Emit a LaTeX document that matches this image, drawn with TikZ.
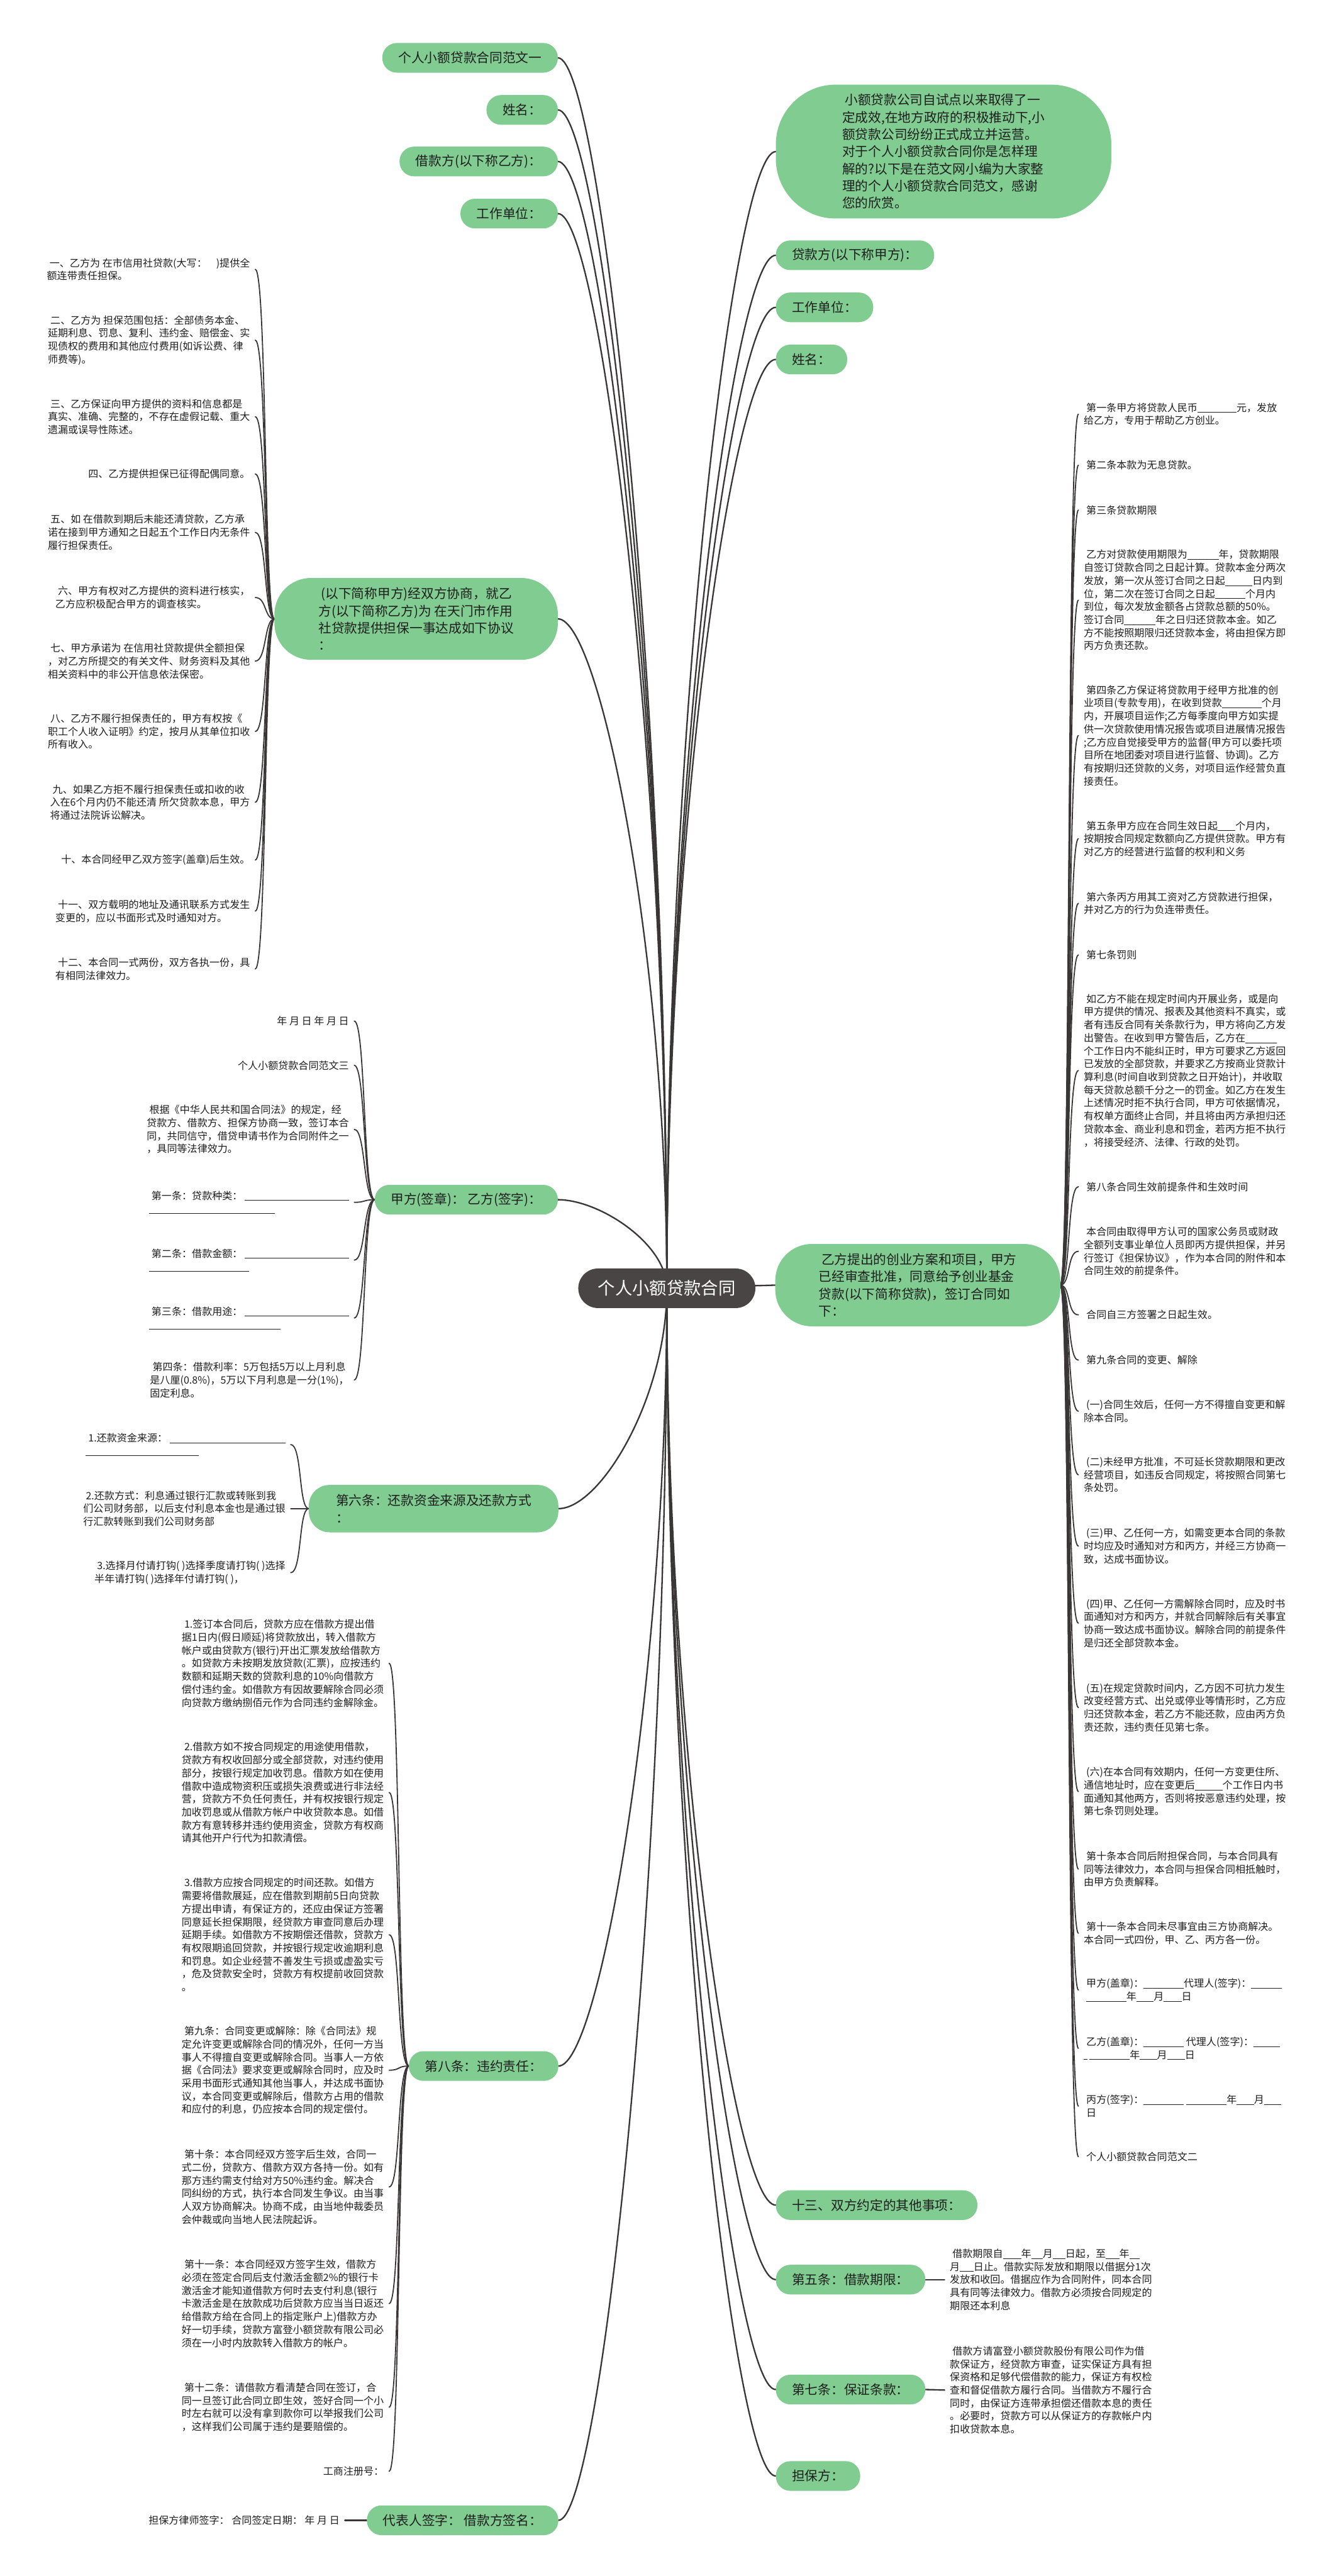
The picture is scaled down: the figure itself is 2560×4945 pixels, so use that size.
\documentclass[tikz,border=0pt]{standalone}
\usepackage{fontspec}
\setmainfont{Noto Sans CJK SC}
\usetikzlibrary{backgrounds}
\definecolor{gfill}{HTML}{80CC91}
\definecolor{dfill}{HTML}{4A4545}
\definecolor{edgec}{HTML}{3A3636}
\definecolor{txt}{HTML}{1E1E1E}
\newcommand{\myind}{\hspace*{5pt}}
\newcommand{\blnk}[1]{\rule[-2.5pt]{#1pt}{1pt}}
\tikzset{
  pill/.style={fill=gfill, rounded corners=28pt, minimum height=57pt, inner xsep=31pt, inner ysep=0pt, font=\fontsize{25}{33}\selectfont, text=txt},
  bub/.style={fill=gfill, align=left, inner sep=0pt, font=\fontsize{25}{33}\selectfont, text=txt},
  ctrnode/.style={fill=dfill, rounded corners=38pt, minimum width=340pt, minimum height=76pt, inner sep=0pt, text=white, font=\fontsize{33}{40}\selectfont},
  small/.style={align=left, inner xsep=10pt, inner ysep=0pt, font=\fontsize{19.4}{25}\selectfont, text=txt},
  edge/.style={draw=edgec, line width=2.8pt, line cap=round},
  bedge/.style={draw=edgec, line width=2.2pt, line cap=round},
}
\begin{document}
\begin{tikzpicture}[x=1pt,y=-1pt]
\useasboundingbox (0,0) rectangle (2560,4945);

% centre
\node[ctrnode] (ctr) at (1280,2473) {个人小额贷款合同};

% top-left
\node[pill, anchor=east] (n1) at (1071,111) {个人小额贷款合同范文一};
\node[pill, anchor=east] (n2) at (1071,211) {姓名：};
\node[pill, anchor=east] (n3) at (1071,310) {借款方(以下称乙方)：};
\node[pill, anchor=east] (n4) at (1071,410) {工作单位：};

% top-right
\node[bub, anchor=west, minimum width=644pt, minimum height=257pt, rounded corners=115pt] (b1) at (1489,291)
 {\myind 小额贷款公司自试点以来取得了一\\定成效,在地方政府的积极推动下,小\\额贷款公司纷纷正式成立并运营。\\对于个人小额贷款合同你是怎样理\\解的?以下是在范文网小编为大家整\\理的个人小额贷款合同范文，感谢\\您的欣赏。};
\node[pill, anchor=west] (r1) at (1489,490) {贷款方(以下称甲方)：};
\node[pill, anchor=west] (r2) at (1489,590) {工作单位：};
\node[pill, anchor=west] (r3) at (1489,690) {姓名：};

% left main nodes
\node[bub, anchor=east, minimum width=544pt, minimum height=157pt, rounded corners=70pt] (L1) at (1071,1188)
 {\myind (以下简称甲方)经双方协商，就乙\\方(以下简称乙方)为 在天门市作用\\社贷款提供担保一事达成如下协议\\：};
\node[pill, anchor=east] (L2) at (1071,2303) {甲方(签章)：\ 乙方(签字)：};
\node[bub, anchor=east, minimum width=479pt, minimum height=91pt, rounded corners=40pt] (L3) at (1072,2896)
 {第六条：还款资金来源及还款方式\\：};
\node[pill, anchor=east] (L4) at (1072,3966) {第八条：违约责任：};
\node[pill, anchor=east] (L5) at (1072,4838) {代表人签字：\ 借款方签名：};

% right main nodes
\node[bub, anchor=west, minimum width=547pt, minimum height=158pt, rounded corners=70pt] (M) at (1488,2467)
 {\myind 乙方提出的创业方案和项目，甲方\\已经审查批准，同意给予创业基金\\贷款(以下简称贷款)，签订合同如\\下：};
\node[pill, anchor=west] (R1) at (1489,4233) {十三、双方约定的其他事项：};
\node[pill, anchor=west] (R2) at (1489,4376) {第五条：借款期限：};
\node[pill, anchor=west] (R3) at (1489,4587) {第七条：保证条款：};
\node[pill, anchor=west] (R4) at (1489,4753) {担保方：};

% right column texts
\node[small, anchor=west] (rc1) at (2070,795) {\myind 第一条甲方将贷款人民币\blnk{75}元，发放\\给乙方，专用于帮助乙方创业。};
\node[small, anchor=west] (rc2) at (2070,893) {\myind 第二条本款为无息贷款。};
\node[small, anchor=west] (rc3) at (2070,979) {\myind 第三条贷款期限};
\node[small, anchor=west] (rc4) at (2070,1152) {\myind 乙方对贷款使用期限为\blnk{60}年，贷款期限\\自签订贷款合同之日起计算。贷款本金分两次\\发放，第一次从签订合同之日起\blnk{52}日内到\\位，第二次在签订合同之日起\blnk{58}个月内\\到位，每次发放金额各占贷款总额的50\%。\\签订合同\blnk{60}年之日归还贷款本金。如乙\\方不能按照期限归还贷款本金，将由担保方即\\丙方负责还款。};
\node[small, anchor=west] (rc5) at (2070,1412) {\myind 第四条乙方保证将贷款用于经甲方批准的创\\业项目(专款专用)，在收到贷款\blnk{76}个月\\内，开展项目运作;乙方每季度向甲方如实提\\供一次贷款使用情况报告或项目进展情况报告\\;乙方应自觉接受甲方的监督(甲方可以委托项\\目所在地团委对项目进行监督、协调)。乙方\\有按期归还贷款的义务，对项目运作经营负直\\接责任。};
\node[small, anchor=west] (rc6) at (2070,1610) {\myind 第五条甲方应在合同生效日起\blnk{34}个月内，\\按期按合同规定数额向乙方提供贷款。甲方有\\对乙方的经营进行监督的权利和义务};
\node[small, anchor=west] (rc7) at (2070,1734) {\myind 第六条丙方用其工资对乙方贷款进行担保，\\并对乙方的行为负连带责任。};
\node[small, anchor=west] (rc8) at (2070,1833) {\myind 第七条罚则};
\node[small, anchor=west] (rc9) at (2070,2055) {\myind 如乙方不能在规定时间内开展业务，或是向\\甲方提供的情况、报表及其他资料不真实，或\\者有违反合同有关条款行为，甲方将向乙方发\\出警告。在收到甲方警告后，乙方在\blnk{60}\\个工作日内不能纠正时，甲方可要求乙方返回\\已发放的全部贷款，并要求乙方按商业贷款计\\算利息(时间自收到贷款之日开始计)，并收取\\每天贷款总额千分之一的罚金。如乙方在发生\\上述情况时拒不执行合同，甲方可依据情况，\\有权单方面终止合同，并且将由丙方承担归还\\贷款本金、商业利息和罚金，若丙方拒不执行\\，将接受经济、法律、行政的处罚。};
\node[small, anchor=west] (rc10) at (2070,2278) {\myind 第八条合同生效前提条件和生效时间};
\node[small, anchor=west] (rc11) at (2070,2402) {\myind 本合同由取得甲方认可的国家公务员或财政\\全额列支事业单位人员即丙方提供担保，并另\\行签订《担保协议》，作为本合同的附件和本\\合同生效的前提条件。};
\node[small, anchor=west] (rc12) at (2070,2524) {\myind 合同自三方签署之日起生效。};
\node[small, anchor=west] (rc13) at (2070,2611) {\myind 第九条合同的变更、解除};
\node[small, anchor=west] (rc14) at (2070,2709) {\myind (一)合同生效后，任何一方不得擅自变更和解\\除本合同。};
\node[small, anchor=west] (rc15) at (2070,2831) {\myind (二)未经甲方批准，不可延长贷款期限和更改\\经营项目，如违反合同规定，将按照合同第七\\条处罚。};
\node[small, anchor=west] (rc16) at (2070,2968) {\myind (三)甲、乙任何一方，如需变更本合同的条款\\时均应及时通知对方和丙方，并经三方协商一\\致，达成书面协议。};
\node[small, anchor=west] (rc17) at (2070,3116) {\myind (四)甲、乙任何一方需解除合同时，应及时书\\面通知对方和丙方，并就合同解除后有关事宜\\协商一致达成书面协议。解除合同的前提条件\\是归还全部贷款本金。};
\node[small, anchor=west] (rc18) at (2070,3278) {\myind (五)在规定贷款时间内，乙方因不可抗力发生\\改变经营方式、出兑或停业等情形时，乙方应\\归还贷款本金，若乙方不能还款，应由丙方负\\责还款，违约责任见第七条。};
\node[small, anchor=west] (rc19) at (2070,3439) {\myind (六)在本合同有效期内，任何一方变更住所、\\通信地址时，应在变更后\blnk{53}个工作日内书\\面通知其他两方，否则将按恶意违约处理，按\\第七条罚则处理。};
\node[small, anchor=west] (rc20) at (2070,3588) {\myind 第十条本合同后附担保合同，与本合同具有\\同等法律效力，本合同与担保合同相抵触时，\\由甲方负责解释。};
\node[small, anchor=west] (rc21) at (2070,3711) {\myind 第十一条本合同未尽事宜由三方协商解决。\\本合同一式四份，甲、乙、丙方各一份。};
\node[small, anchor=west] (rc22) at (2070,3820) {\myind 甲方(盖章)：\blnk{77}代理人(签字)：\blnk{58}\\\myind\blnk{77}年\blnk{33}月\blnk{34}日};
\node[small, anchor=west] (rc23) at (2070,3932) {\myind 乙方(盖章)：\blnk{77} 代理人(签字)：\blnk{51}\\\blnk{7} \blnk{77}年\blnk{33}月\blnk{34}日};
\node[small, anchor=west] (rc24) at (2070,4043) {\myind 丙方(签字)：\blnk{77} \blnk{78}年\blnk{33}月\blnk{33}\\\myind 日};
\node[small, anchor=west] (rc25) at (2070,4140) {\myind 个人小额贷款合同范文二};

% left group a
\node[small, anchor=east] (la1) at (490,517) {\myind 一、乙方为 在市信用社贷款(大写：\hspace{18pt})提供全\\额连带责任担保。};
\node[small, anchor=east] (la2) at (490,653) {\myind 二、乙方为 担保范围包括：全部债务本金、\\延期利息、罚息、复利、违约金、赔偿金、实\\现债权的费用和其他应付费用(如诉讼费、律\\师费等)。};
\node[small, anchor=east] (la3) at (490,800) {\myind 三、乙方保证向甲方提供的资料和信息都是\\真实、准确、完整的，不存在虚假记载、重大\\遗漏或误导性陈述。};
\node[small, anchor=east] (la4) at (490,910) {\myind 四、乙方提供担保已征得配偶同意。};
\node[small, anchor=east] (la5) at (490,1022) {\myind 五、如 在借款到期后未能还清贷款，乙方承\\诺在接到甲方通知之日起五个工作日内无条件\\履行担保责任。};
\node[small, anchor=east] (la6) at (490,1147) {\myind 六、甲方有权对乙方提供的资料进行核实，\\乙方应积极配合甲方的调查核实。};
\node[small, anchor=east] (la7) at (490,1269) {\myind 七、甲方承诺为 在信用社贷款提供全额担保\\，对乙方所提交的有关文件、财务资料及其他\\相关资料中的非公开信息依法保密。};
\node[small, anchor=east] (la8) at (490,1404) {\myind 八、乙方不履行担保责任的，甲方有权按《\\职工个人收入证明》约定，按月从其单位扣收\\所有收入。};
\node[small, anchor=east] (la9) at (490,1540) {\myind 九、如果乙方拒不履行担保责任或扣收的收\\入在6个月内仍不能还清 所欠贷款本息，甲方\\将通过法院诉讼解决。};
\node[small, anchor=east] (la10) at (490,1651) {\myind 十、本合同经甲乙双方签字(盖章)后生效。};
\node[small, anchor=east] (la11) at (490,1749) {\myind 十一、双方载明的地址及通讯联系方式发生\\变更的，应以书面形式及时通知对方。};
\node[small, anchor=east] (la12) at (490,1860) {\myind 十二、本合同一式两份，双方各执一份，具\\有相同法律效力。};

% left group b
\node[small, anchor=east] (lb1) at (680,1960) {年 月 日 年 月 日};
\node[small, anchor=east] (lb2) at (680,2045) {个人小额贷款合同范文三};
\node[small, anchor=east] (lb3) at (680,2168) {\myind 根据《中华人民共和国合同法》的规定，经\\贷款方、借款方、担保方协商一致，签订本合\\同，共同信守，借贷申请书作为合同附件之一\\，具同等法律效力。};
\node[small, anchor=east] (lb4) at (680,2308) {\myind 第一条：贷款种类：\ \blnk{200}\\\blnk{242}};
\node[small, anchor=east] (lb5) at (680,2419) {\myind 第二条：借款金额：\ \blnk{200}\\\blnk{192}};
\node[small, anchor=east] (lb6) at (680,2530) {\myind 第三条：借款用途：\ \blnk{200}\\\blnk{253}};
\node[small, anchor=east] (lb7) at (680,2649) {\myind 第四条：借款利率：5万包括5万以上月利息\\是八厘(0.8\%)，5万以下月利息是一分(1\%)，\\固定利息。};

% left group c
\node[small, anchor=east] (lc1) at (558,2773) {\myind 1.还款资金来源：\ \blnk{222}\\\blnk{217}};
\node[small, anchor=east] (lc2) at (558,2896) {\myind 2.还款方式：利息通过银行汇款或转账到我\\们公司财务部，以后支付利息本金也是通过银\\行汇款转账到我们公司财务部};
\node[small, anchor=east] (lc3) at (558,3019) {\myind 3.选择月付请打钩( )选择季度请打钩( )选择\\半年请打钩( )选择年付请打钩( )，};

% left group d
\node[small, anchor=east] (ld1) at (747,3193) {\myind 1.签订本合同后，贷款方应在借款方提出借\\据1日内(假日顺延)将贷款放出，转入借款方\\帐户或由贷款方(银行)开出汇票发放给借款方\\。如贷款方未按期发放贷款(汇票)，应按违约\\数额和延期天数的贷款利息的10\%向借款方\\偿付违约金。如借款方有因故要解除合同必须\\向贷款方缴纳捌佰元作为合同违约金解除金。};
\node[small, anchor=east] (ld2) at (747,3441) {\myind 2.借款方如不按合同规定的用途使用借款，\\贷款方有权收回部分或全部贷款，对违约使用\\部分，按银行规定加收罚息。借款方如在使用\\借款中造成物资积压或损失浪费或进行非法经\\营，贷款方不负任何责任，并有权按银行规定\\加收罚息或从借款方帐户中收贷款本息。如借\\款方有意转移并违约使用资金，贷款方有权商\\请其他开户行代为扣款清偿。};
\node[small, anchor=east] (ld3) at (747,3714) {\myind 3.借款方应按合同规定的时间还款。如借方\\需要将借款展延，应在借款到期前5日向贷款\\方提出申请，有保证方的，还应由保证方签署\\同意延长担保期限，经贷款方审查同意后办理\\延期手续。如借款方不按期偿还借款，贷款方\\有权限期追回贷款，并按银行规定收逾期利息\\和罚息。如企业经营不善发生亏损或虚盈实亏\\，危及贷款安全时，贷款方有权提前收回贷款\\。};
\node[small, anchor=east] (ld4) at (747,3974) {\myind 第九条：合同变更或解除：除《合同法》规\\定允许变更或解除合同的情况外，任何一方当\\事人不得擅自变更或解除合同。当事人一方依\\据《合同法》要求变更或解除合同时，应及时\\采用书面形式通知其他当事人，并达成书面协\\议，本合同变更或解除后，借款方占用的借款\\和应付的利息，仍应按本合同的规定偿付。};
\node[small, anchor=east] (ld5) at (747,4198) {\myind 第十条：本合同经双方签字后生效，合同一\\式二份，贷款方、借款方双方各持一份。如有\\那方违约需支付给对方50\%违约金。解决合\\同纠纷的方式，执行本合同发生争议。由当事\\人双方协商解决。协商不成，由当地仲裁委员\\会仲裁或向当地人民法院起诉。};
\node[small, anchor=east] (ld6) at (747,4422) {\myind 第十一条：本合同经双方签字生效，借款方\\必须在签定合同后支付激活金额2\%的银行卡\\激活金才能知道借款方何时去支付利息(银行\\卡激活金是在放款成功后贷款方应当当日返还\\给借款方给在合同上的指定账户上)借款方办\\好一切手续，贷款方富登小额贷款有限公司必\\须在一小时内放款转入借款方的帐户。};
\node[small, anchor=east] (ld7) at (747,4621) {\myind 第十二条：请借款方看清楚合同在签订，合\\同一旦签订此合同立即生效，签好合同一个小\\时左右就可以没有拿到款你可以举报我们公司\\，这样我们公司属于违约是要赔偿的。};
\node[small, anchor=east] (ld8) at (747,4744) {工商注册号：};

% bottom-left leaf
\node[small, anchor=east] (le) at (662,4838) {担保方律师签字：\ 合同签定日期：\ 年 月 日};

% bottom-right leaves
\node[small, anchor=west] (rr1) at (1813,4376) {\myind 借款期限自\blnk{35}年\blnk{22}月\blnk{24}日起，至\blnk{26}年\blnk{20}\\月\blnk{26}日止。借款实际发放和期限以借据分1次\\发放和收回。借据应作为合同附件，同本合同\\具有同等法律效力。借款方必须按合同规定的\\期限还本利息};
\node[small, anchor=west] (rr2) at (1813,4588) {\myind 借款方请富登小额贷款股份有限公司作为借\\款保证方，经贷款方审查，证实保证方具有担\\保资格和足够代偿借款的能力，保证方有权检\\查和督促借款方履行合同。当借款方不履行合\\同时，由保证方连带承担偿还借款本息的责任\\。必要时，贷款方可以从保证方的存款帐户内\\扣收贷款本息。};

\begin{pgfonlayer}{background}
\fill[white] (0,0) rectangle (2560,4945);
% centre edges
\draw[edge] (ctr.center) .. controls (1280,1292) and (1151,111) .. (n1.east);
\draw[edge] (ctr.center) .. controls (1280,1342) and (1151,211) .. (n2.east);
\draw[edge] (ctr.center) .. controls (1280,1391) and (1151,310) .. (n3.east);
\draw[edge] (ctr.center) .. controls (1280,1441) and (1151,410) .. (n4.east);
\draw[edge] (ctr.center) .. controls (1280,1382) and (1409,291) .. (b1.west);
\draw[edge] (ctr.center) .. controls (1280,1481) and (1409,490) .. (r1.west);
\draw[edge] (ctr.center) .. controls (1280,1531) and (1409,590) .. (r2.west);
\draw[edge] (ctr.center) .. controls (1280,1581) and (1409,690) .. (r3.west);
\draw[edge] (ctr.center) .. controls (1280,1830) and (1151,1188) .. (L1.east);
\draw[edge] (ctr.center) .. controls (1280,2388) and (1151,2303) .. (L2.east);
\draw[edge] (ctr.center) .. controls (1280,2684) and (1152,2896) .. (L3.east);
\draw[edge] (ctr.center) .. controls (1280,3219) and (1152,3966) .. (L4.east);
\draw[edge] (ctr.center) .. controls (1280,3655) and (1152,4838) .. (L5.east);
\draw[edge] (ctr.center) -- (M.west);
\draw[edge] (ctr.center) .. controls (1280,3353) and (1409,4233) .. (R1.west);
\draw[edge] (ctr.center) .. controls (1280,3424) and (1409,4376) .. (R2.west);
\draw[edge] (ctr.center) .. controls (1280,3530) and (1409,4587) .. (R3.west);
\draw[edge] (ctr.center) .. controls (1280,3613) and (1409,4753) .. (R4.west);
% right column bracket
\foreach \n/\cy in {rc1/795,rc2/893,rc3/979,rc4/1152,rc5/1412,rc6/1610,rc7/1734,rc8/1833,rc9/2055,rc10/2278,rc11/2402,rc12/2524,rc13/2611,rc14/2709,rc15/2831,rc16/2968,rc17/3116,rc18/3278,rc19/3439,rc20/3588,rc21/3711,rc22/3820,rc23/3932,rc24/4043,rc25/4140}
  \draw[bedge] (M.east) .. controls (2055,2467) and (2048,\cy) .. (\n.west);
% left group a
\foreach \n/\cy in {la1/517,la2/653,la3/800,la4/910,la5/1022,la6/1147,la7/1269,la8/1404,la9/1540,la10/1651,la11/1749,la12/1860}
  \draw[bedge] (L1.west) .. controls (507,1188) and (512,\cy) .. (\n.east);
% left group b
\foreach \n/\cy in {lb1/1960,lb2/2045,lb3/2168,lb4/2308,lb5/2419,lb6/2530,lb7/2649}
  \draw[bedge] (L2.west) .. controls (697,2303) and (702,\cy) .. (\n.east);
% left group c
\foreach \n/\cy in {lc1/2773,lc2/2896,lc3/3019}
  \draw[bedge] (L3.west) .. controls (573,2896) and (580,\cy) .. (\n.east);
% left group d
\foreach \n/\cy in {ld1/3193,ld2/3441,ld3/3714,ld4/3974,ld5/4198,ld6/4422,ld7/4621,ld8/4744}
  \draw[bedge] (L4.west) .. controls (762,3966) and (769,\cy) .. (\n.east);
\draw[edge] (L5.west) -- (le.east);
\draw[edge] (R2.east) -- (rr1.west);
\draw[edge] (R3.east) -- (rr2.west);
\end{pgfonlayer}
\end{tikzpicture}
\end{document}
